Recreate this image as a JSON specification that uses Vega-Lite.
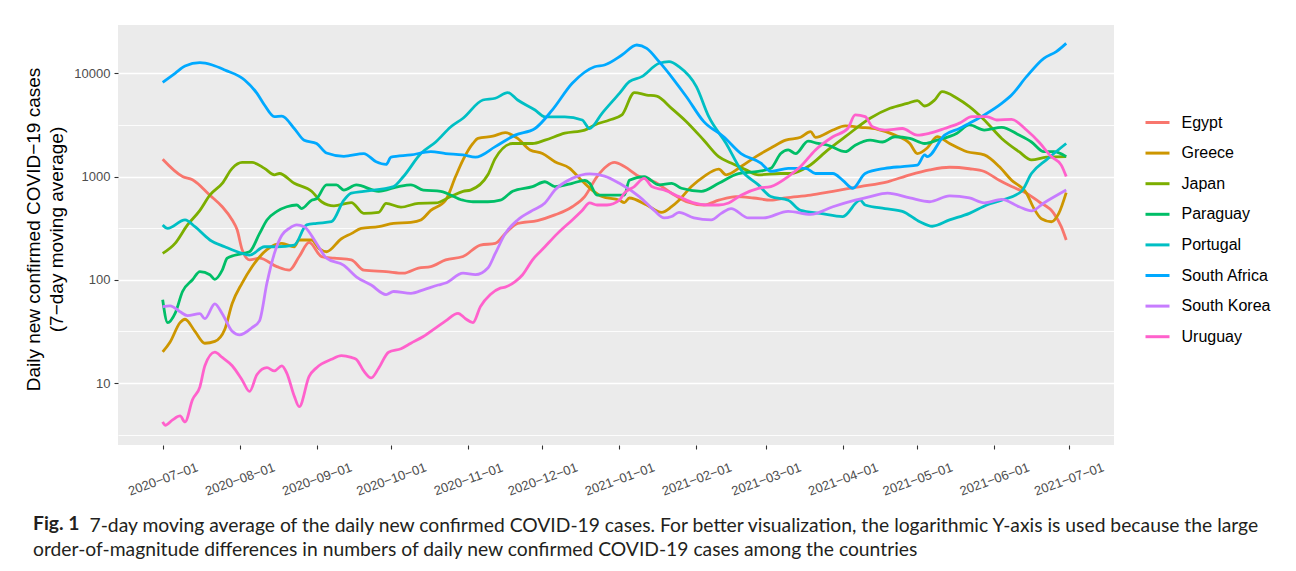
{
"$schema": "https://vega.github.io/schema/vega-lite/v6.json",
"width": 996, "height": 420,
"autosize": {"type": "none"},
"padding": {"left": 118, "top": 25, "right": 182, "bottom": 126},
"background": "white",
"config": {
  "view": {"fill": "#EBEBEB", "stroke": null},
  "axis": {"domain": false, "gridColor": "#FFFFFF", "tickColor": "#333333", "tickWidth": 1.1, "tickSize": 4, "labelColor": "#4D4D4D", "labelFont": "Liberation Sans", "labelFontSize": 13, "titleFont": "Liberation Sans", "titleFontWeight": "normal", "titleColor": "#000000"}
},
"datasets": {
"d1": [
{"c":"Egypt","d":"2020-07-01","v":1470},{"c":"Egypt","d":"2020-07-09","v":1000},{"c":"Egypt","d":"2020-07-13","v":930},{"c":"Egypt","d":"2020-07-20","v":660},{"c":"Egypt","d":"2020-07-25","v":510},{"c":"Egypt","d":"2020-07-29","v":380},{"c":"Egypt","d":"2020-07-31","v":305},{"c":"Egypt","d":"2020-08-02","v":196},{"c":"Egypt","d":"2020-08-05","v":156},{"c":"Egypt","d":"2020-08-09","v":162},{"c":"Egypt","d":"2020-08-16","v":134},{"c":"Egypt","d":"2020-08-21","v":124},{"c":"Egypt","d":"2020-08-25","v":168},{"c":"Egypt","d":"2020-08-29","v":230},{"c":"Egypt","d":"2020-09-03","v":168},{"c":"Egypt","d":"2020-09-08","v":162},{"c":"Egypt","d":"2020-09-15","v":156},{"c":"Egypt","d":"2020-09-20","v":124},{"c":"Egypt","d":"2020-09-29","v":120},{"c":"Egypt","d":"2020-10-06","v":116},{"c":"Egypt","d":"2020-10-12","v":130},{"c":"Egypt","d":"2020-10-17","v":134},{"c":"Egypt","d":"2020-10-23","v":156},{"c":"Egypt","d":"2020-10-30","v":168},{"c":"Egypt","d":"2020-11-06","v":217},{"c":"Egypt","d":"2020-11-12","v":225},{"c":"Egypt","d":"2020-11-16","v":280},{"c":"Egypt","d":"2020-11-21","v":352},{"c":"Egypt","d":"2020-11-29","v":375},{"c":"Egypt","d":"2020-12-06","v":425},{"c":"Egypt","d":"2020-12-13","v":510},{"c":"Egypt","d":"2020-12-18","v":640},{"c":"Egypt","d":"2020-12-23","v":1000},{"c":"Egypt","d":"2020-12-30","v":1370},{"c":"Egypt","d":"2021-01-03","v":1250},{"c":"Egypt","d":"2021-01-09","v":1000},{"c":"Egypt","d":"2021-01-15","v":890},{"c":"Egypt","d":"2021-01-22","v":690},{"c":"Egypt","d":"2021-01-28","v":570},{"c":"Egypt","d":"2021-02-04","v":530},{"c":"Egypt","d":"2021-02-10","v":590},{"c":"Egypt","d":"2021-02-17","v":640},{"c":"Egypt","d":"2021-02-24","v":620},{"c":"Egypt","d":"2021-03-03","v":590},{"c":"Egypt","d":"2021-03-09","v":620},{"c":"Egypt","d":"2021-03-19","v":660},{"c":"Egypt","d":"2021-03-28","v":720},{"c":"Egypt","d":"2021-04-08","v":800},{"c":"Egypt","d":"2021-04-19","v":890},{"c":"Egypt","d":"2021-04-28","v":1040},{"c":"Egypt","d":"2021-05-06","v":1160},{"c":"Egypt","d":"2021-05-14","v":1230},{"c":"Egypt","d":"2021-05-22","v":1190},{"c":"Egypt","d":"2021-05-28","v":1120},{"c":"Egypt","d":"2021-06-03","v":920},{"c":"Egypt","d":"2021-06-08","v":800},{"c":"Egypt","d":"2021-06-14","v":690},{"c":"Egypt","d":"2021-06-19","v":570},{"c":"Egypt","d":"2021-06-25","v":440},{"c":"Egypt","d":"2021-06-28","v":327},{"c":"Egypt","d":"2021-06-30","v":243},

{"c":"Greece","d":"2020-07-01","v":20},{"c":"Greece","d":"2020-07-04","v":25},{"c":"Greece","d":"2020-07-08","v":38.5},{"c":"Greece","d":"2020-07-10","v":41.5},{"c":"Greece","d":"2020-07-14","v":31.7},{"c":"Greece","d":"2020-07-18","v":24.3},{"c":"Greece","d":"2020-07-22","v":25.3},{"c":"Greece","d":"2020-07-26","v":33},{"c":"Greece","d":"2020-07-29","v":59},{"c":"Greece","d":"2020-08-02","v":93},{"c":"Greece","d":"2020-08-06","v":134},{"c":"Greece","d":"2020-08-12","v":196},{"c":"Greece","d":"2020-08-18","v":225},{"c":"Greece","d":"2020-08-23","v":209},{"c":"Greece","d":"2020-08-25","v":243},{"c":"Greece","d":"2020-08-30","v":243},{"c":"Greece","d":"2020-09-02","v":200},{"c":"Greece","d":"2020-09-05","v":187},{"c":"Greece","d":"2020-09-11","v":250},{"c":"Greece","d":"2020-09-15","v":280},{"c":"Greece","d":"2020-09-19","v":315},{"c":"Greece","d":"2020-09-26","v":327},{"c":"Greece","d":"2020-10-02","v":352},{"c":"Greece","d":"2020-10-09","v":360},{"c":"Greece","d":"2020-10-13","v":380},{"c":"Greece","d":"2020-10-17","v":470},{"c":"Greece","d":"2020-10-23","v":590},{"c":"Greece","d":"2020-10-27","v":1000},{"c":"Greece","d":"2020-10-30","v":1450},{"c":"Greece","d":"2020-11-03","v":2090},{"c":"Greece","d":"2020-11-05","v":2340},{"c":"Greece","d":"2020-11-11","v":2460},{"c":"Greece","d":"2020-11-16","v":2660},{"c":"Greece","d":"2020-11-21","v":2340},{"c":"Greece","d":"2020-11-26","v":1810},{"c":"Greece","d":"2020-12-01","v":1670},{"c":"Greece","d":"2020-12-06","v":1390},{"c":"Greece","d":"2020-12-12","v":1200},{"c":"Greece","d":"2020-12-16","v":960},{"c":"Greece","d":"2020-12-21","v":740},{"c":"Greece","d":"2020-12-25","v":640},{"c":"Greece","d":"2021-01-01","v":590},{"c":"Greece","d":"2021-01-03","v":560},{"c":"Greece","d":"2021-01-05","v":620},{"c":"Greece","d":"2021-01-12","v":530},{"c":"Greece","d":"2021-01-18","v":450},{"c":"Greece","d":"2021-01-22","v":510},{"c":"Greece","d":"2021-01-25","v":590},{"c":"Greece","d":"2021-01-30","v":800},{"c":"Greece","d":"2021-02-04","v":1000},{"c":"Greece","d":"2021-02-10","v":1180},{"c":"Greece","d":"2021-02-13","v":1040},{"c":"Greece","d":"2021-02-19","v":1250},{"c":"Greece","d":"2021-02-25","v":1560},{"c":"Greece","d":"2021-03-03","v":1890},{"c":"Greece","d":"2021-03-09","v":2250},{"c":"Greece","d":"2021-03-15","v":2400},{"c":"Greece","d":"2021-03-19","v":2720},{"c":"Greece","d":"2021-03-21","v":2400},{"c":"Greece","d":"2021-03-28","v":2820},{"c":"Greece","d":"2021-04-02","v":3090},{"c":"Greece","d":"2021-04-08","v":3000},{"c":"Greece","d":"2021-04-15","v":2870},{"c":"Greece","d":"2021-04-22","v":2520},{"c":"Greece","d":"2021-04-28","v":2090},{"c":"Greece","d":"2021-05-01","v":1670},{"c":"Greece","d":"2021-05-05","v":1890},{"c":"Greece","d":"2021-05-09","v":2430},{"c":"Greece","d":"2021-05-14","v":2090},{"c":"Greece","d":"2021-05-21","v":1740},{"c":"Greece","d":"2021-05-28","v":1620},{"c":"Greece","d":"2021-06-03","v":1250},{"c":"Greece","d":"2021-06-08","v":920},{"c":"Greece","d":"2021-06-14","v":690},{"c":"Greece","d":"2021-06-17","v":490},{"c":"Greece","d":"2021-06-20","v":390},{"c":"Greece","d":"2021-06-24","v":365},{"c":"Greece","d":"2021-06-27","v":440},{"c":"Greece","d":"2021-06-30","v":700},

{"c":"Japan","d":"2020-07-01","v":180},{"c":"Japan","d":"2020-07-06","v":225},{"c":"Japan","d":"2020-07-11","v":340},{"c":"Japan","d":"2020-07-16","v":470},{"c":"Japan","d":"2020-07-20","v":660},{"c":"Japan","d":"2020-07-25","v":860},{"c":"Japan","d":"2020-07-29","v":1200},{"c":"Japan","d":"2020-08-02","v":1370},{"c":"Japan","d":"2020-08-06","v":1370},{"c":"Japan","d":"2020-08-11","v":1200},{"c":"Japan","d":"2020-08-15","v":1040},{"c":"Japan","d":"2020-08-17","v":1070},{"c":"Japan","d":"2020-08-23","v":860},{"c":"Japan","d":"2020-08-30","v":720},{"c":"Japan","d":"2020-09-03","v":570},{"c":"Japan","d":"2020-09-08","v":520},{"c":"Japan","d":"2020-09-15","v":560},{"c":"Japan","d":"2020-09-20","v":440},{"c":"Japan","d":"2020-09-26","v":450},{"c":"Japan","d":"2020-09-29","v":550},{"c":"Japan","d":"2020-10-05","v":505},{"c":"Japan","d":"2020-10-12","v":550},{"c":"Japan","d":"2020-10-19","v":555},{"c":"Japan","d":"2020-10-25","v":640},{"c":"Japan","d":"2020-10-30","v":720},{"c":"Japan","d":"2020-11-02","v":740},{"c":"Japan","d":"2020-11-09","v":1040},{"c":"Japan","d":"2020-11-12","v":1500},{"c":"Japan","d":"2020-11-19","v":2090},{"c":"Japan","d":"2020-11-27","v":2090},{"c":"Japan","d":"2020-12-02","v":2250},{"c":"Japan","d":"2020-12-10","v":2630},{"c":"Japan","d":"2020-12-18","v":2820},{"c":"Japan","d":"2020-12-22","v":3160},{"c":"Japan","d":"2020-12-28","v":3530},{"c":"Japan","d":"2021-01-02","v":3950},{"c":"Japan","d":"2021-01-07","v":6500},{"c":"Japan","d":"2021-01-12","v":6160},{"c":"Japan","d":"2021-01-16","v":6000},{"c":"Japan","d":"2021-01-22","v":4580},{"c":"Japan","d":"2021-01-28","v":3400},{"c":"Japan","d":"2021-02-04","v":2250},{"c":"Japan","d":"2021-02-10","v":1560},{"c":"Japan","d":"2021-02-15","v":1350},{"c":"Japan","d":"2021-02-21","v":1160},{"c":"Japan","d":"2021-02-26","v":1040},{"c":"Japan","d":"2021-03-07","v":1070},{"c":"Japan","d":"2021-03-11","v":1070},{"c":"Japan","d":"2021-03-18","v":1250},{"c":"Japan","d":"2021-03-26","v":1810},{"c":"Japan","d":"2021-04-02","v":2430},{"c":"Japan","d":"2021-04-12","v":3670},{"c":"Japan","d":"2021-04-20","v":4580},{"c":"Japan","d":"2021-04-27","v":5110},{"c":"Japan","d":"2021-05-01","v":5430},{"c":"Japan","d":"2021-05-04","v":4820},{"c":"Japan","d":"2021-05-08","v":5510},{"c":"Japan","d":"2021-05-11","v":6640},{"c":"Japan","d":"2021-05-17","v":5730},{"c":"Japan","d":"2021-05-22","v":4750},{"c":"Japan","d":"2021-05-28","v":3530},{"c":"Japan","d":"2021-06-04","v":2340},{"c":"Japan","d":"2021-06-11","v":1740},{"c":"Japan","d":"2021-06-16","v":1450},{"c":"Japan","d":"2021-06-22","v":1540},{"c":"Japan","d":"2021-06-30","v":1560},

{"c":"Paraguay","d":"2020-07-01","v":64},{"c":"Paraguay","d":"2020-07-03","v":38.5},{"c":"Paraguay","d":"2020-07-06","v":47.3},{"c":"Paraguay","d":"2020-07-09","v":77},{"c":"Paraguay","d":"2020-07-13","v":100},{"c":"Paraguay","d":"2020-07-16","v":120},{"c":"Paraguay","d":"2020-07-20","v":112},{"c":"Paraguay","d":"2020-07-22","v":101},{"c":"Paraguay","d":"2020-07-25","v":124},{"c":"Paraguay","d":"2020-07-27","v":162},{"c":"Paraguay","d":"2020-07-30","v":173},{"c":"Paraguay","d":"2020-08-05","v":187},{"c":"Paraguay","d":"2020-08-09","v":280},{"c":"Paraguay","d":"2020-08-12","v":380},{"c":"Paraguay","d":"2020-08-16","v":460},{"c":"Paraguay","d":"2020-08-20","v":510},{"c":"Paraguay","d":"2020-08-24","v":530},{"c":"Paraguay","d":"2020-08-26","v":490},{"c":"Paraguay","d":"2020-08-30","v":590},{"c":"Paraguay","d":"2020-09-01","v":610},{"c":"Paraguay","d":"2020-09-05","v":830},{"c":"Paraguay","d":"2020-09-09","v":830},{"c":"Paraguay","d":"2020-09-12","v":740},{"c":"Paraguay","d":"2020-09-17","v":830},{"c":"Paraguay","d":"2020-09-26","v":720},{"c":"Paraguay","d":"2020-10-04","v":800},{"c":"Paraguay","d":"2020-10-09","v":830},{"c":"Paraguay","d":"2020-10-14","v":740},{"c":"Paraguay","d":"2020-10-21","v":720},{"c":"Paraguay","d":"2020-10-30","v":590},{"c":"Paraguay","d":"2020-11-03","v":570},{"c":"Paraguay","d":"2020-11-09","v":570},{"c":"Paraguay","d":"2020-11-14","v":590},{"c":"Paraguay","d":"2020-11-19","v":720},{"c":"Paraguay","d":"2020-11-27","v":800},{"c":"Paraguay","d":"2020-12-02","v":890},{"c":"Paraguay","d":"2020-12-06","v":800},{"c":"Paraguay","d":"2020-12-13","v":860},{"c":"Paraguay","d":"2020-12-18","v":920},{"c":"Paraguay","d":"2020-12-20","v":860},{"c":"Paraguay","d":"2020-12-23","v":660},{"c":"Paraguay","d":"2020-12-28","v":660},{"c":"Paraguay","d":"2021-01-03","v":660},{"c":"Paraguay","d":"2021-01-05","v":920},{"c":"Paraguay","d":"2021-01-11","v":1000},{"c":"Paraguay","d":"2021-01-17","v":830},{"c":"Paraguay","d":"2021-01-22","v":860},{"c":"Paraguay","d":"2021-01-26","v":770},{"c":"Paraguay","d":"2021-02-03","v":720},{"c":"Paraguay","d":"2021-02-10","v":860},{"c":"Paraguay","d":"2021-02-18","v":1070},{"c":"Paraguay","d":"2021-02-26","v":1120},{"c":"Paraguay","d":"2021-03-03","v":1200},{"c":"Paraguay","d":"2021-03-07","v":1670},{"c":"Paraguay","d":"2021-03-10","v":1810},{"c":"Paraguay","d":"2021-03-13","v":1670},{"c":"Paraguay","d":"2021-03-18","v":2200},{"c":"Paraguay","d":"2021-03-22","v":2090},{"c":"Paraguay","d":"2021-03-26","v":2010},{"c":"Paraguay","d":"2021-04-02","v":1740},{"c":"Paraguay","d":"2021-04-06","v":2010},{"c":"Paraguay","d":"2021-04-12","v":2250},{"c":"Paraguay","d":"2021-04-17","v":2160},{"c":"Paraguay","d":"2021-04-22","v":2430},{"c":"Paraguay","d":"2021-04-28","v":2340},{"c":"Paraguay","d":"2021-05-04","v":2090},{"c":"Paraguay","d":"2021-05-09","v":2250},{"c":"Paraguay","d":"2021-05-17","v":2630},{"c":"Paraguay","d":"2021-05-22","v":3160},{"c":"Paraguay","d":"2021-05-28","v":2820},{"c":"Paraguay","d":"2021-06-04","v":3000},{"c":"Paraguay","d":"2021-06-11","v":2520},{"c":"Paraguay","d":"2021-06-16","v":2160},{"c":"Paraguay","d":"2021-06-21","v":1740},{"c":"Paraguay","d":"2021-06-25","v":1740},{"c":"Paraguay","d":"2021-06-30","v":1560},

{"c":"Portugal","d":"2020-07-01","v":340},{"c":"Portugal","d":"2020-07-03","v":315},{"c":"Portugal","d":"2020-07-10","v":380},{"c":"Portugal","d":"2020-07-14","v":327},{"c":"Portugal","d":"2020-07-20","v":243},{"c":"Portugal","d":"2020-07-26","v":209},{"c":"Portugal","d":"2020-08-02","v":180},{"c":"Portugal","d":"2020-08-05","v":173},{"c":"Portugal","d":"2020-08-11","v":209},{"c":"Portugal","d":"2020-08-16","v":209},{"c":"Portugal","d":"2020-08-23","v":217},{"c":"Portugal","d":"2020-08-28","v":340},{"c":"Portugal","d":"2020-09-01","v":352},{"c":"Portugal","d":"2020-09-07","v":365},{"c":"Portugal","d":"2020-09-12","v":590},{"c":"Portugal","d":"2020-09-15","v":690},{"c":"Portugal","d":"2020-09-20","v":720},{"c":"Portugal","d":"2020-10-02","v":800},{"c":"Portugal","d":"2020-10-06","v":1000},{"c":"Portugal","d":"2020-10-13","v":1670},{"c":"Portugal","d":"2020-10-19","v":2160},{"c":"Portugal","d":"2020-10-25","v":3020},{"c":"Portugal","d":"2020-10-30","v":3670},{"c":"Portugal","d":"2020-11-07","v":5510},{"c":"Portugal","d":"2020-11-12","v":5730},{"c":"Portugal","d":"2020-11-17","v":6500},{"c":"Portugal","d":"2020-11-21","v":5510},{"c":"Portugal","d":"2020-11-28","v":4410},{"c":"Portugal","d":"2020-12-02","v":3790},{"c":"Portugal","d":"2020-12-10","v":3790},{"c":"Portugal","d":"2020-12-17","v":3530},{"c":"Portugal","d":"2020-12-20","v":2920},{"c":"Portugal","d":"2020-12-25","v":4100},{"c":"Portugal","d":"2021-01-01","v":6400},{"c":"Portugal","d":"2021-01-05","v":8300},{"c":"Portugal","d":"2021-01-10","v":9280},{"c":"Portugal","d":"2021-01-17","v":12500},{"c":"Portugal","d":"2021-01-21","v":12950},{"c":"Portugal","d":"2021-01-25","v":11580},{"c":"Portugal","d":"2021-02-01","v":7420},{"c":"Portugal","d":"2021-02-06","v":3800},{"c":"Portugal","d":"2021-02-13","v":2090},{"c":"Portugal","d":"2021-02-19","v":1160},{"c":"Portugal","d":"2021-02-26","v":830},{"c":"Portugal","d":"2021-03-03","v":640},{"c":"Portugal","d":"2021-03-10","v":590},{"c":"Portugal","d":"2021-03-15","v":470},{"c":"Portugal","d":"2021-03-23","v":440},{"c":"Portugal","d":"2021-04-01","v":410},{"c":"Portugal","d":"2021-04-08","v":590},{"c":"Portugal","d":"2021-04-10","v":530},{"c":"Portugal","d":"2021-04-18","v":490},{"c":"Portugal","d":"2021-04-25","v":460},{"c":"Portugal","d":"2021-05-02","v":365},{"c":"Portugal","d":"2021-05-07","v":330},{"c":"Portugal","d":"2021-05-14","v":380},{"c":"Portugal","d":"2021-05-22","v":440},{"c":"Portugal","d":"2021-05-29","v":530},{"c":"Portugal","d":"2021-06-04","v":590},{"c":"Portugal","d":"2021-06-12","v":720},{"c":"Portugal","d":"2021-06-16","v":1070},{"c":"Portugal","d":"2021-06-22","v":1450},{"c":"Portugal","d":"2021-06-30","v":2090},

{"c":"South Africa","d":"2020-07-01","v":8180},{"c":"South Africa","d":"2020-07-06","v":10000},{"c":"South Africa","d":"2020-07-10","v":11760},{"c":"South Africa","d":"2020-07-16","v":12670},{"c":"South Africa","d":"2020-07-21","v":12030},{"c":"South Africa","d":"2020-07-26","v":10770},{"c":"South Africa","d":"2020-08-03","v":8610},{"c":"South Africa","d":"2020-08-08","v":6400},{"c":"South Africa","d":"2020-08-11","v":4930},{"c":"South Africa","d":"2020-08-15","v":3800},{"c":"South Africa","d":"2020-08-18","v":3850},{"c":"South Africa","d":"2020-08-23","v":2920},{"c":"South Africa","d":"2020-08-27","v":2250},{"c":"South Africa","d":"2020-09-01","v":2090},{"c":"South Africa","d":"2020-09-05","v":1690},{"c":"South Africa","d":"2020-09-12","v":1570},{"c":"South Africa","d":"2020-09-20","v":1670},{"c":"South Africa","d":"2020-09-25","v":1390},{"c":"South Africa","d":"2020-09-29","v":1310},{"c":"South Africa","d":"2020-10-01","v":1540},{"c":"South Africa","d":"2020-10-09","v":1620},{"c":"South Africa","d":"2020-10-17","v":1740},{"c":"South Africa","d":"2020-10-23","v":1670},{"c":"South Africa","d":"2020-10-30","v":1620},{"c":"South Africa","d":"2020-11-04","v":1540},{"c":"South Africa","d":"2020-11-12","v":1950},{"c":"South Africa","d":"2020-11-20","v":2520},{"c":"South Africa","d":"2020-11-28","v":2920},{"c":"South Africa","d":"2020-12-05","v":4420},{"c":"South Africa","d":"2020-12-13","v":8000},{"c":"South Africa","d":"2020-12-22","v":11580},{"c":"South Africa","d":"2020-12-26","v":12030},{"c":"South Africa","d":"2021-01-02","v":15030},{"c":"South Africa","d":"2021-01-08","v":18800},{"c":"South Africa","d":"2021-01-12","v":17450},{"c":"South Africa","d":"2021-01-17","v":12950},{"c":"South Africa","d":"2021-01-23","v":8600},{"c":"South Africa","d":"2021-01-28","v":5930},{"c":"South Africa","d":"2021-02-04","v":3400},{"c":"South Africa","d":"2021-02-12","v":2430},{"c":"South Africa","d":"2021-02-19","v":1670},{"c":"South Africa","d":"2021-02-27","v":1350},{"c":"South Africa","d":"2021-03-03","v":1120},{"c":"South Africa","d":"2021-03-10","v":1200},{"c":"South Africa","d":"2021-03-17","v":1200},{"c":"South Africa","d":"2021-03-21","v":1070},{"c":"South Africa","d":"2021-03-28","v":1070},{"c":"South Africa","d":"2021-04-01","v":920},{"c":"South Africa","d":"2021-04-05","v":770},{"c":"South Africa","d":"2021-04-10","v":1070},{"c":"South Africa","d":"2021-04-18","v":1200},{"c":"South Africa","d":"2021-04-25","v":1250},{"c":"South Africa","d":"2021-05-01","v":1290},{"c":"South Africa","d":"2021-05-04","v":1620},{"c":"South Africa","d":"2021-05-05","v":1560},{"c":"South Africa","d":"2021-05-12","v":2520},{"c":"South Africa","d":"2021-05-18","v":2920},{"c":"South Africa","d":"2021-05-22","v":3290},{"c":"South Africa","d":"2021-05-28","v":3950},{"c":"South Africa","d":"2021-06-04","v":5110},{"c":"South Africa","d":"2021-06-08","v":6160},{"c":"South Africa","d":"2021-06-14","v":9270},{"c":"South Africa","d":"2021-06-21","v":13970},{"c":"South Africa","d":"2021-06-26","v":16190},{"c":"South Africa","d":"2021-06-30","v":19500},

{"c":"South Korea","d":"2020-07-01","v":55},{"c":"South Korea","d":"2020-07-04","v":56},{"c":"South Korea","d":"2020-07-08","v":49},{"c":"South Korea","d":"2020-07-11","v":45},{"c":"South Korea","d":"2020-07-16","v":47},{"c":"South Korea","d":"2020-07-18","v":42},{"c":"South Korea","d":"2020-07-22","v":58.5},{"c":"South Korea","d":"2020-07-25","v":47},{"c":"South Korea","d":"2020-07-29","v":31.7},{"c":"South Korea","d":"2020-08-01","v":29.3},{"c":"South Korea","d":"2020-08-06","v":34.4},{"c":"South Korea","d":"2020-08-09","v":40},{"c":"South Korea","d":"2020-08-12","v":93},{"c":"South Korea","d":"2020-08-15","v":180},{"c":"South Korea","d":"2020-08-18","v":270},{"c":"South Korea","d":"2020-08-21","v":315},{"c":"South Korea","d":"2020-08-24","v":340},{"c":"South Korea","d":"2020-08-27","v":327},{"c":"South Korea","d":"2020-09-01","v":225},{"c":"South Korea","d":"2020-09-05","v":162},{"c":"South Korea","d":"2020-09-12","v":138},{"c":"South Korea","d":"2020-09-17","v":107},{"c":"South Korea","d":"2020-09-23","v":89},{"c":"South Korea","d":"2020-09-29","v":72},{"c":"South Korea","d":"2020-10-02","v":77},{"c":"South Korea","d":"2020-10-09","v":74},{"c":"South Korea","d":"2020-10-14","v":80},{"c":"South Korea","d":"2020-10-20","v":89},{"c":"South Korea","d":"2020-10-23","v":93},{"c":"South Korea","d":"2020-10-30","v":116},{"c":"South Korea","d":"2020-11-04","v":112},{"c":"South Korea","d":"2020-11-09","v":130},{"c":"South Korea","d":"2020-11-12","v":180},{"c":"South Korea","d":"2020-11-16","v":280},{"c":"South Korea","d":"2020-11-21","v":380},{"c":"South Korea","d":"2020-11-27","v":470},{"c":"South Korea","d":"2020-12-02","v":555},{"c":"South Korea","d":"2020-12-06","v":740},{"c":"South Korea","d":"2020-12-13","v":960},{"c":"South Korea","d":"2020-12-20","v":1060},{"c":"South Korea","d":"2020-12-26","v":1010},{"c":"South Korea","d":"2021-01-01","v":860},{"c":"South Korea","d":"2021-01-09","v":640},{"c":"South Korea","d":"2021-01-15","v":470},{"c":"South Korea","d":"2021-01-19","v":397},{"c":"South Korea","d":"2021-01-22","v":410},{"c":"South Korea","d":"2021-01-25","v":450},{"c":"South Korea","d":"2021-01-31","v":397},{"c":"South Korea","d":"2021-02-07","v":380},{"c":"South Korea","d":"2021-02-11","v":440},{"c":"South Korea","d":"2021-02-15","v":490},{"c":"South Korea","d":"2021-02-22","v":397},{"c":"South Korea","d":"2021-02-28","v":397},{"c":"South Korea","d":"2021-03-10","v":460},{"c":"South Korea","d":"2021-03-19","v":430},{"c":"South Korea","d":"2021-03-28","v":510},{"c":"South Korea","d":"2021-04-06","v":590},{"c":"South Korea","d":"2021-04-12","v":640},{"c":"South Korea","d":"2021-04-19","v":690},{"c":"South Korea","d":"2021-04-28","v":620},{"c":"South Korea","d":"2021-05-06","v":570},{"c":"South Korea","d":"2021-05-14","v":650},{"c":"South Korea","d":"2021-05-22","v":620},{"c":"South Korea","d":"2021-05-28","v":555},{"c":"South Korea","d":"2021-06-04","v":600},{"c":"South Korea","d":"2021-06-11","v":510},{"c":"South Korea","d":"2021-06-16","v":465},{"c":"South Korea","d":"2021-06-21","v":555},{"c":"South Korea","d":"2021-06-30","v":740},

{"c":"Uruguay","d":"2020-07-01","v":4.2},{"c":"Uruguay","d":"2020-07-02","v":3.9},{"c":"Uruguay","d":"2020-07-05","v":4.4},{"c":"Uruguay","d":"2020-07-08","v":4.8},{"c":"Uruguay","d":"2020-07-10","v":4.2},{"c":"Uruguay","d":"2020-07-13","v":6.9},{"c":"Uruguay","d":"2020-07-16","v":9.2},{"c":"Uruguay","d":"2020-07-18","v":14.7},{"c":"Uruguay","d":"2020-07-22","v":19.9},{"c":"Uruguay","d":"2020-07-25","v":17.7},{"c":"Uruguay","d":"2020-07-29","v":14.7},{"c":"Uruguay","d":"2020-08-02","v":10.7},{"c":"Uruguay","d":"2020-08-05","v":8.3},{"c":"Uruguay","d":"2020-08-08","v":12.1},{"c":"Uruguay","d":"2020-08-12","v":14.1},{"c":"Uruguay","d":"2020-08-15","v":13.1},{"c":"Uruguay","d":"2020-08-18","v":14.7},{"c":"Uruguay","d":"2020-08-20","v":12.5},{"c":"Uruguay","d":"2020-08-23","v":7.5},{"c":"Uruguay","d":"2020-08-25","v":5.9},{"c":"Uruguay","d":"2020-08-29","v":11.6},{"c":"Uruguay","d":"2020-09-01","v":14.1},{"c":"Uruguay","d":"2020-09-07","v":17},{"c":"Uruguay","d":"2020-09-11","v":18.4},{"c":"Uruguay","d":"2020-09-15","v":17.7},{"c":"Uruguay","d":"2020-09-17","v":17},{"c":"Uruguay","d":"2020-09-20","v":13.1},{"c":"Uruguay","d":"2020-09-23","v":11.2},{"c":"Uruguay","d":"2020-09-26","v":13.9},{"c":"Uruguay","d":"2020-09-30","v":19.9},{"c":"Uruguay","d":"2020-10-05","v":21.5},{"c":"Uruguay","d":"2020-10-09","v":24.3},{"c":"Uruguay","d":"2020-10-14","v":28.2},{"c":"Uruguay","d":"2020-10-20","v":35.6},{"c":"Uruguay","d":"2020-10-23","v":40},{"c":"Uruguay","d":"2020-10-28","v":47.3},{"c":"Uruguay","d":"2020-10-31","v":42},{"c":"Uruguay","d":"2020-11-03","v":38.5},{"c":"Uruguay","d":"2020-11-06","v":55},{"c":"Uruguay","d":"2020-11-10","v":72},{"c":"Uruguay","d":"2020-11-14","v":83},{"c":"Uruguay","d":"2020-11-16","v":85},{"c":"Uruguay","d":"2020-11-20","v":96},{"c":"Uruguay","d":"2020-11-23","v":112},{"c":"Uruguay","d":"2020-11-27","v":156},{"c":"Uruguay","d":"2020-12-02","v":209},{"c":"Uruguay","d":"2020-12-07","v":280},{"c":"Uruguay","d":"2020-12-13","v":380},{"c":"Uruguay","d":"2020-12-17","v":470},{"c":"Uruguay","d":"2020-12-20","v":555},{"c":"Uruguay","d":"2020-12-23","v":530},{"c":"Uruguay","d":"2020-12-27","v":530},{"c":"Uruguay","d":"2021-01-01","v":590},{"c":"Uruguay","d":"2021-01-03","v":690},{"c":"Uruguay","d":"2021-01-07","v":800},{"c":"Uruguay","d":"2021-01-11","v":960},{"c":"Uruguay","d":"2021-01-14","v":800},{"c":"Uruguay","d":"2021-01-19","v":740},{"c":"Uruguay","d":"2021-01-25","v":640},{"c":"Uruguay","d":"2021-01-31","v":555},{"c":"Uruguay","d":"2021-02-05","v":530},{"c":"Uruguay","d":"2021-02-10","v":530},{"c":"Uruguay","d":"2021-02-14","v":555},{"c":"Uruguay","d":"2021-02-19","v":660},{"c":"Uruguay","d":"2021-02-26","v":770},{"c":"Uruguay","d":"2021-03-03","v":800},{"c":"Uruguay","d":"2021-03-10","v":1000},{"c":"Uruguay","d":"2021-03-15","v":1250},{"c":"Uruguay","d":"2021-03-21","v":1810},{"c":"Uruguay","d":"2021-03-28","v":2430},{"c":"Uruguay","d":"2021-04-03","v":2920},{"c":"Uruguay","d":"2021-04-06","v":3950},{"c":"Uruguay","d":"2021-04-10","v":3800},{"c":"Uruguay","d":"2021-04-13","v":3030},{"c":"Uruguay","d":"2021-04-18","v":2820},{"c":"Uruguay","d":"2021-04-25","v":2920},{"c":"Uruguay","d":"2021-05-01","v":2520},{"c":"Uruguay","d":"2021-05-06","v":2630},{"c":"Uruguay","d":"2021-05-12","v":2920},{"c":"Uruguay","d":"2021-05-18","v":3290},{"c":"Uruguay","d":"2021-05-23","v":3800},{"c":"Uruguay","d":"2021-05-29","v":3800},{"c":"Uruguay","d":"2021-06-02","v":3530},{"c":"Uruguay","d":"2021-06-08","v":3580},{"c":"Uruguay","d":"2021-06-14","v":2820},{"c":"Uruguay","d":"2021-06-19","v":2160},{"c":"Uruguay","d":"2021-06-24","v":1560},{"c":"Uruguay","d":"2021-06-28","v":1290},{"c":"Uruguay","d":"2021-06-30","v":1000}
]
},
"data": {"name": "d1"},
"mark": {"type": "line", "strokeWidth": 2.8, "interpolate": "monotone"},
"encoding": {
  "x": {"field": "d", "type": "temporal",
    "scale": {"type": "utc", "domain": [{"year": 2020, "month": 6, "date": 13, "utc": true}, {"year": 2021, "month": 7, "date": 19, "hours": 6, "utc": true}]},
    "axis": {"values": [{"year":2020,"month":7,"date":1,"utc":true},{"year":2020,"month":8,"date":1,"utc":true},{"year":2020,"month":9,"date":1,"utc":true},{"year":2020,"month":10,"date":1,"utc":true},{"year":2020,"month":11,"date":1,"utc":true},{"year":2020,"month":12,"date":1,"utc":true},{"year":2021,"month":1,"date":1,"utc":true},{"year":2021,"month":2,"date":1,"utc":true},{"year":2021,"month":3,"date":1,"utc":true},{"year":2021,"month":4,"date":1,"utc":true},{"year":2021,"month":5,"date":1,"utc":true},{"year":2021,"month":6,"date":1,"utc":true},{"year":2021,"month":7,"date":1,"utc":true}],
      "format": "%Y\u2212%m\u2212%d", "labelAngle": -20, "labelAlign": "center", "labelBaseline": "middle", "labelPadding": 30, "grid": false, "labelOverlap": false, "labelFlush": false, "labelBound": false,
      "title": "7-day moving average of the daily new confirmed COVID-19 cases. For better visualization, the logarithmic Y-axis is used because the large",
      "titleX": -29, "titleY": 86, "titleAlign": "left", "titleAnchor": "start", "titleBaseline": "alphabetic", "titleFont": "Lato", "titleFontWeight": "normal", "titleFontSize": 19.3, "titleColor": "#231F20", "titleLimit": 2000}},
  "y": {"field": "v", "type": "quantitative",
    "scale": {"type": "log", "domain": [2.512, 29360], "nice": false},
    "axis": {"values": [3.16228, 10, 31.6228, 100, 316.228, 1000, 3162.28, 10000],
      "format": "d",
      "labelExpr": "datum.value == 10 || datum.value == 100 || datum.value == 1000 || datum.value == 10000 ? datum.label : ''",
      "grid": true,
      "gridWidth": {"condition": {"test": "datum.value == 10 || datum.value == 100 || datum.value == 1000 || datum.value == 10000", "value": 1.7}, "value": 0.85},
      "tickOpacity": {"condition": {"test": "datum.value == 10 || datum.value == 100 || datum.value == 1000 || datum.value == 10000", "value": 1}, "value": 0},
      "labelPadding": 4,
      "title": ["Daily new confirmed COVID\u221219 cases", "(7\u2212day moving average)"],
      "titleFontSize": 19, "titleLineHeight": 23, "titlePadding": 7, "titleY": 204}},
  "color": {"field": "c", "type": "nominal",
    "scale": {"domain": ["Egypt", "Greece", "Japan", "Paraguay", "Portugal", "South Africa", "South Korea", "Uruguay"], "range": ["#F8766D", "#CD9600", "#7CAE00", "#00BE67", "#00BFC4", "#00A9FF", "#C77CFF", "#FF61CC"]},
    "legend": {"title": null, "orient": "none", "legendX": 1026, "legendY": 84, "symbolType": "stroke", "symbolSize": 576, "symbolStrokeWidth": 3, "labelFont": "Liberation Sans", "labelFontSize": 16, "labelColor": "#000000", "rowPadding": 8.6, "labelOffset": 10.5, "padding": 0}}
},
"title": {"text": "Fig. 1", "subtitle": "order-of-magnitude differences in numbers of daily new confirmed COVID-19 cases among the countries",
  "orient": "bottom", "anchor": "start", "frame": "group", "dx": -85, "offset": 0, "dy": -5, "baseline": "alphabetic",
  "font": "Lato", "fontSize": 19.3, "fontWeight": "bold", "color": "#231F20",
  "subtitleFont": "Lato", "subtitleFontSize": 19.3, "subtitleFontWeight": "normal", "subtitleColor": "#231F20", "subtitlePadding": 6}
}
